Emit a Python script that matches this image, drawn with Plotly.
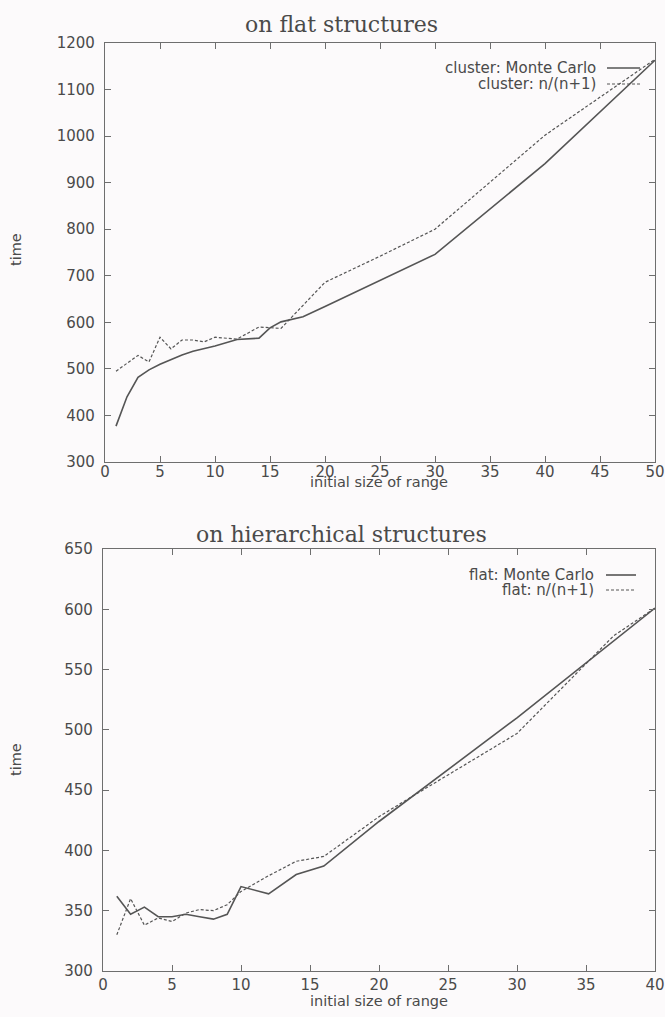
import plotly.graph_objects as go

# ---- on flat structures ----
flat_mc_x = [1, 2, 3, 4, 5, 6, 7, 8, 9, 10, 12, 14, 15, 16, 18, 20, 30, 40, 50]
flat_mc_y = [377, 440, 482, 498, 510, 520, 530, 538, 544, 549, 563, 566, 588, 601, 612, 634, 746, 941, 1163]
flat_nn_x = [1, 2, 3, 4, 5, 6, 7, 8, 9, 10, 12, 14, 15, 16, 20, 25, 30, 40, 50]
flat_nn_y = [495, 512, 529, 515, 568, 543, 562, 562, 558, 568, 564, 590, 588, 587, 686, 742, 800, 1002, 1165]

# ---- on hierarchical structures ----
hier_mc_x = [1, 2, 3, 4, 5, 6, 7, 8, 9, 10, 12, 14, 16, 20, 30, 40]
hier_mc_y = [362, 347, 353, 345, 345, 347, 345, 343, 347, 370, 364, 380, 387, 424, 510, 601]
hier_nn_x = [1, 2, 3, 4, 5, 6, 7, 8, 9, 10, 12, 14, 16, 20, 22, 30, 37, 40]
hier_nn_y = [330, 360, 338, 344, 341, 348, 351, 350, 355, 366, 379, 391, 395, 428, 442, 497, 578, 601]

top_ticks_x = [0, 5, 10, 15, 20, 25, 30, 35, 40, 45, 50]
top_ticks_y = [300, 400, 500, 600, 700, 800, 900, 1000, 1100, 1200]
bot_ticks_x = [0, 5, 10, 15, 20, 25, 30, 35, 40]
bot_ticks_y = [300, 350, 400, 450, 500, 550, 600, 650]

W, H = 665, 1017
ML, MR, MT, MB = 10, 10, 12, 12  # fixed outer margins; placement below is in pixels
LINE = "#555555"
FRAME = "#6e6e6e"
TXT = "#4a4a4a"
SANS = "DejaVu Sans, Liberation Sans, sans-serif"
SERIF = "DejaVu Serif, Liberation Serif, serif"


def px_x(p):
    return min(1.0, max(0.0, (p - ML) / (W - ML - MR)))


def px_y(p):
    return min(1.0, max(0.0, 1 - (p - MT) / (H - MT - MB)))


def fx(p):
    # unclamped position for annotations
    return (p - ML) / (W - ML - MR)


def fy(p):
    return 1 - (p - MT) / (H - MT - MB)


fig = go.Figure()

solid = dict(color=LINE, width=1.6)
dashed = dict(color=LINE, width=1.2, dash="3px,2px")

fig.add_trace(go.Scatter(x=flat_mc_x, y=flat_mc_y, mode="lines", line=solid,
                         xaxis="x", yaxis="y", showlegend=False))
fig.add_trace(go.Scatter(x=flat_nn_x, y=flat_nn_y, mode="lines", line=dashed,
                         xaxis="x", yaxis="y", showlegend=False))
fig.add_trace(go.Scatter(x=hier_mc_x, y=hier_mc_y, mode="lines", line=solid,
                         xaxis="x2", yaxis="y2", showlegend=False))
fig.add_trace(go.Scatter(x=hier_nn_x, y=hier_nn_y, mode="lines", line=dashed,
                         xaxis="x2", yaxis="y2", showlegend=False))

axis_common = dict(
    showline=True, linecolor=FRAME, linewidth=1.3, mirror="ticks",
    ticks="inside", ticklen=6, tickcolor=FRAME, tickwidth=1.2,
    showgrid=False, zeroline=False, automargin=False,
    tickfont=dict(family=SANS, size=15, color=TXT),
)

fig.update_layout(
    width=W, height=H,
    margin=dict(l=ML, r=MR, t=MT, b=MB, pad=0),
    paper_bgcolor="#fcfafb", plot_bgcolor="#fcfafb",
    xaxis=dict(domain=[px_x(105), px_x(655)], range=[0, 50], tickvals=top_ticks_x,
               anchor="y", ticklabelstandoff=-4, **axis_common),
    yaxis=dict(domain=[px_y(462), px_y(43)], range=[300, 1200], tickvals=top_ticks_y,
               anchor="x", ticklabelstandoff=6, **axis_common),
    xaxis2=dict(domain=[px_x(103), px_x(655)], range=[0, 40], tickvals=bot_ticks_x,
                anchor="y2", ticklabelstandoff=0, **axis_common),
    yaxis2=dict(domain=[px_y(971), px_y(549)], range=[300, 650], tickvals=bot_ticks_y,
                anchor="x2", ticklabelstandoff=6, **axis_common),
)

annotations = [
    # panel titles
    dict(text="on flat structures", x=fx(341), y=fy(24),
         font=dict(family=SERIF, size=22, color=TXT)),
    dict(text="on hierarchical structures", x=fx(341), y=fy(534),
         font=dict(family=SERIF, size=22, color=TXT)),
    # axis titles
    dict(text="initial size of range", x=fx(379), y=fy(482),
         font=dict(family=SANS, size=14.5, color=TXT)),
    dict(text="initial size of range", x=fx(379), y=fy(1001),
         font=dict(family=SANS, size=14.5, color=TXT)),
    dict(text="time", x=fx(16), y=fy(250), textangle=-90,
         font=dict(family=SANS, size=14.5, color=TXT)),
    dict(text="time", x=fx(16), y=fy(760), textangle=-90,
         font=dict(family=SANS, size=14.5, color=TXT)),
    # key entries
    dict(text="cluster: Monte Carlo", x=fx(598), y=fy(68), xanchor="right",
         font=dict(family=SANS, size=15, color=TXT)),
    dict(text="cluster: n/(n+1)", x=fx(598), y=fy(84), xanchor="right",
         font=dict(family=SANS, size=15, color=TXT)),
    dict(text="flat: Monte Carlo", x=fx(596), y=fy(575), xanchor="right",
         font=dict(family=SANS, size=15, color=TXT)),
    dict(text="flat: n/(n+1)", x=fx(596), y=fy(590), xanchor="right",
         font=dict(family=SANS, size=15, color=TXT)),
]
for a in annotations:
    a.setdefault("xanchor", "center")
    a.update(xref="paper", yref="paper", yanchor="middle", showarrow=False)
fig.update_layout(annotations=annotations)

# key line samples
samples = [
    (607, 640, 68, solid),
    (607, 640, 84, dashed),
    (606, 636, 575, solid),
    (606, 636, 590, dashed),
]
shapes = []
for x0, x1, yy, st in samples:
    shapes.append(dict(type="line", xref="paper", yref="paper",
                       x0=fx(x0), x1=fx(x1), y0=fy(yy), y1=fy(yy),
                       line=dict(color=st["color"], width=st["width"],
                                 dash=st.get("dash", "solid"))))
fig.update_layout(shapes=shapes)

fig.write_html("out.html")
